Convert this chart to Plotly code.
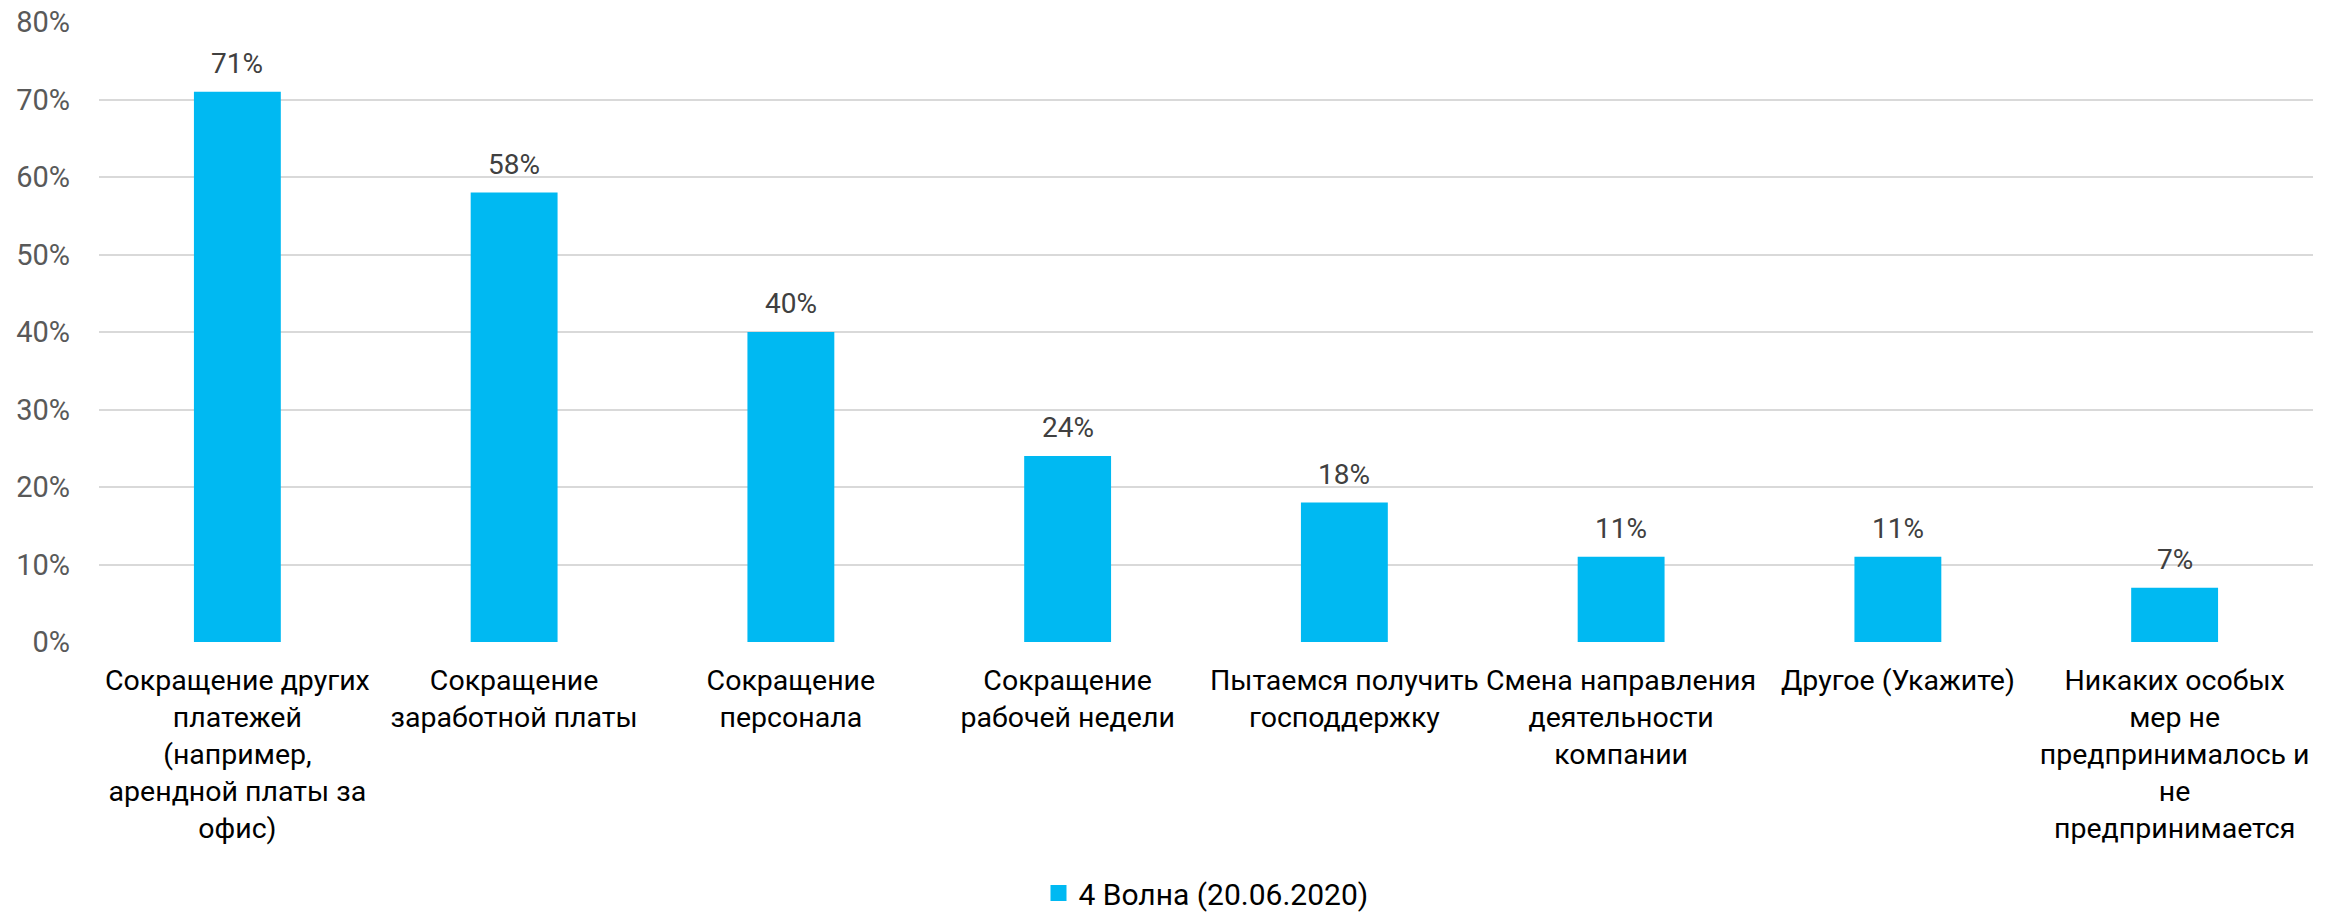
import plotly.graph_objects as go

# Survey answers: anti-crisis measures taken by companies
categories = [
    "Сокращение других<br>платежей<br>(например,<br>арендной платы за<br>офис)",
    "Сокращение<br>заработной платы",
    "Сокращение<br>персонала",
    "Сокращение<br>рабочей недели",
    "Пытаемся получить<br>господдержку",
    "Смена направления<br>деятельности<br>компании",
    "Другое (Укажите)",
    "Никаких особых<br>мер не<br>предпринималось и<br>не<br>предпринимается",
]
values = [0.71, 0.58, 0.40, 0.24, 0.18, 0.11, 0.11, 0.07]
series_name = "4 Волна (20.06.2020)"
y_ticks = [0, 0.1, 0.2, 0.3, 0.4, 0.5, 0.6, 0.7, 0.8]

FONT = "Roboto"
BAR_COLOR = "#00B9F2"

fig = go.Figure()
fig.add_trace(go.Bar(
    x=categories,
    y=values,
    name=series_name,
    marker=dict(color=BAR_COLOR, line=dict(width=0)),
    showlegend=False,
))
# legend entry with a larger square swatch
fig.add_trace(go.Scatter(
    x=[None], y=[None], mode="markers", name=series_name,
    marker=dict(symbol="square", size=18, color=BAR_COLOR),
    showlegend=True,
))

# value labels above each bar
for c, v in zip(categories, values):
    fig.add_annotation(
        x=c, y=v, text=f"{round(v * 100)}%",
        showarrow=False, yanchor="bottom", yshift=10,
        font=dict(family=FONT, size=28, color="#404040"),
    )

fig.update_layout(
    width=2343, height=915,
    margin=dict(l=99, r=30, t=22, b=273, autoexpand=False),
    plot_bgcolor="white", paper_bgcolor="white",
    bargap=0.686,
    font=dict(family=FONT, size=29, color="#000000"),
    legend=dict(
        orientation="h", x=0.5, xanchor="center", y=-0.405, yanchor="middle",
        font=dict(family=FONT, size=30, color="#000000"),
        itemwidth=30, tracegroupgap=0,
    ),
    xaxis=dict(
        showgrid=False, showline=False, zeroline=False,
        tickfont=dict(family=FONT, size=28.5, color="#000000"),
        ticklabelstandoff=18, tickangle=0, automargin=False,
    ),
    yaxis=dict(
        range=[0, 0.8], tickvals=y_ticks, tickformat=".0%",
        showgrid=True, gridcolor="#D9D9D9", gridwidth=2,
        showline=False, zeroline=False,
        tickfont=dict(family=FONT, size=29, color="#595959"),
        ticklabelstandoff=28, automargin=False,
    ),
)

fig.write_html("out.html")
